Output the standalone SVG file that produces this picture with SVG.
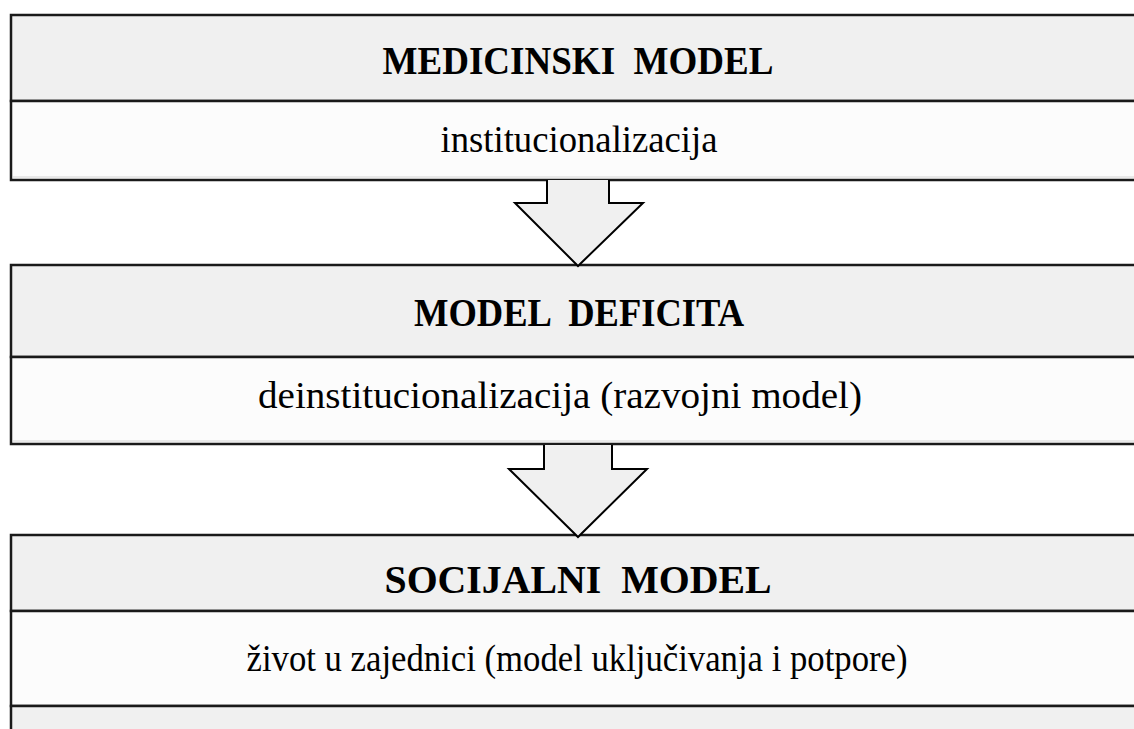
<svg xmlns="http://www.w3.org/2000/svg" width="1134" height="729" viewBox="0 0 1134 729">
<style>
.hd{fill:#f0f0f0;stroke:#1a1a1a;stroke-width:2.5}
.cl{fill:#fcfcfc;stroke:#1a1a1a;stroke-width:2.5}
.sh{stroke:#e3e3e3;stroke-width:1.5}
.arr{fill:#f0f0f0;stroke:#000;stroke-width:2;stroke-linejoin:miter}
.t{font-family:"Liberation Serif","Times New Roman",serif;font-size:37px;fill:#000;text-anchor:middle;white-space:pre}
.b{font-weight:bold;font-size:40px}
</style>
<rect width="1134" height="729" fill="#fff"/>
<g id="node-medicinski">
<rect class="hd" x="11" y="15" width="1135" height="86"/>
<rect class="cl" x="11" y="101" width="1135" height="79"/>
<line class="sh" x1="13" y1="177" x2="1134" y2="177"/>
<text class="t b" x="578" y="74" textLength="391" lengthAdjust="spacingAndGlyphs">MEDICINSKI  MODEL</text>
<text class="t" x="579" y="152" textLength="277" lengthAdjust="spacingAndGlyphs">institucionalizacija</text>
</g>
<g id="node-deficit">
<rect class="hd" x="11" y="265" width="1135" height="92"/>
<rect class="cl" x="11" y="357" width="1135" height="87"/>
<line class="sh" x1="13" y1="441" x2="1134" y2="441"/>
<text class="t b" x="579" y="326" textLength="330" lengthAdjust="spacingAndGlyphs">MODEL  DEFICITA</text>
<text class="t" x="560" y="408" textLength="604" lengthAdjust="spacingAndGlyphs">deinstitucionalizacija (razvojni model)</text>
</g>
<g id="node-socijalni">
<rect class="hd" x="11" y="535" width="1135" height="76"/>
<rect class="cl" x="11" y="611" width="1135" height="95"/>
<rect class="hd" x="11" y="706" width="1135" height="40"/>
<text class="t b" x="578" y="593" textLength="387" lengthAdjust="spacingAndGlyphs">SOCIJALNI  MODEL</text>
<text class="t" x="577" y="671" textLength="661" lengthAdjust="spacingAndGlyphs">život u zajednici (model uključivanja i potpore)</text>
</g>
<g id="connectors">
<path class="arr" d="M547,180 V203 H515 L578,266 L643,203 H609 V180"/>
<path class="arr" d="M544,445 V469 H509 L578,537 L647,469 H612 V445"/>
</g>
</svg>
